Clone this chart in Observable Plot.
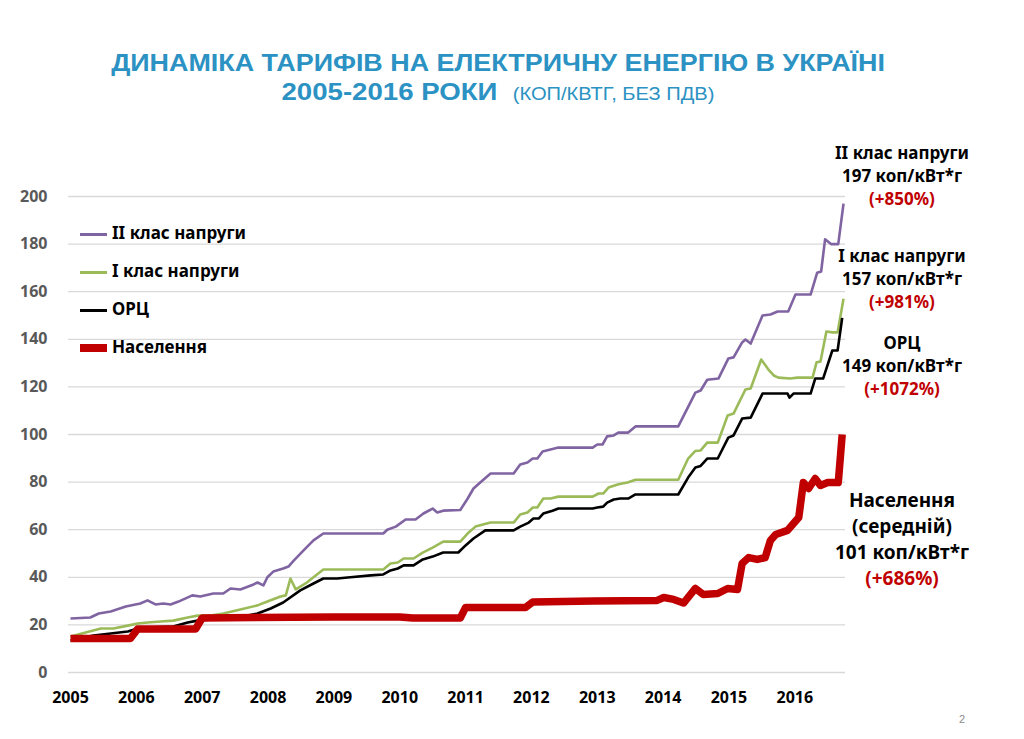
<!DOCTYPE html>
<html>
<head>
<meta charset="utf-8">
<script src="https://cdn.jsdelivr.net/npm/d3@7"></script>
<script src="https://cdn.jsdelivr.net/npm/@observablehq/plot@0.6"></script>
<style>
  html, body { margin: 0; padding: 0; background: #fff; }
  #page { position: relative; width: 1024px; height: 739px; overflow: hidden; background: #fff; }
  .title { position: absolute; left: 0; width: 996px; text-align: center; color: #2b92c3;
           font-family: "Liberation Sans", Arial, sans-serif; font-weight: bold; white-space: nowrap;
           transform-origin: 498px 50%; }
  #chart { position: absolute; left: 0; top: 120px; }
  .leg { position: absolute; left: 80px; font-family: "Noto Sans", sans-serif; font-weight: bold;
         font-size: 17px; color: #000; white-space: nowrap; line-height: 17px; }
  .leg .sw { display: inline-block; width: 27px; vertical-align: middle; margin-right: 5px; }
  .ann { position: absolute; left: 802px; width: 200px; text-align: center; font-family: "Noto Sans", sans-serif;
         font-weight: bold; white-space: nowrap; }
  .ann div { line-height: 1; }
  .red { color: #C00000; }
  #pg { position: absolute; left: 959px; top: 713px; font-family: "Liberation Sans", Arial, sans-serif; font-size: 11px; color: #8c8c8c; }
</style>
</head>
<body>
<div id="page">
  <div class="title" style="top:49px;font-size:24px;transform:scaleX(1.12);">ДИНАМІКА ТАРИФІВ НА ЕЛЕКТРИЧНУ ЕНЕРГІЮ В УКРАЇНІ</div>
  <div class="title" style="top:78px;font-size:24px;transform:scaleX(1.15);">2005-2016 РОКИ&nbsp;&nbsp;<span style="font-weight:normal;font-size:17.5px;">(КОП/КВТГ, БЕЗ ПДВ)</span></div>
  <div id="chart"></div>
  <div id="legend"></div>
  <div id="annotations"></div>
  <div id="pg">2</div>
</div>
<script>
// ---- data ----
const years = [2005, 2006, 2007, 2008, 2009, 2010, 2011, 2012, 2013, 2014, 2015, 2016];
const yTicks = [0, 20, 40, 60, 80, 100, 120, 140, 160, 180, 200];
const seriesNames = ["II клас напруги", "I клас напруги", "ОРЦ", "Населення"];
const seriesColors = ["#8064A2", "#9BBB59", "#000000", "#C00000"];

// [decimal year, коп/кВт*г]
const class2 = [
  [2005.00,22.7],[2005.30,23.1],[2005.43,24.8],[2005.61,25.6],[2005.84,27.7],[2006.06,29.0],[2006.17,30.3],
  [2006.29,28.6],[2006.41,29.0],[2006.52,28.6],[2006.64,29.8],[2006.85,32.4],[2006.97,31.9],[2007.17,33.2],
  [2007.32,33.2],[2007.43,35.3],[2007.58,34.9],[2007.78,37.0],[2007.84,37.8],[2007.93,36.6],[2007.99,40.0],
  [2008.08,42.4],[2008.23,43.7],[2008.31,44.5],[2008.39,47.0],[2008.54,51.3],[2008.69,55.5],[2008.84,58.4],
  [2009.75,58.4],[2009.81,60.0],[2009.94,61.3],[2010.09,64.3],[2010.24,64.3],[2010.36,66.8],[2010.50,68.9],
  [2010.57,67.2],[2010.66,68.0],[2010.92,68.3],[2011.03,73.0],[2011.12,77.3],[2011.27,81.0],[2011.38,83.6],
  [2011.73,83.6],[2011.83,87.4],[2011.94,88.2],[2012.02,89.9],[2012.09,89.9],[2012.17,92.9],[2012.29,93.7],
  [2012.41,94.5],[2012.93,94.5],[2013.00,95.8],[2013.08,95.8],[2013.15,99.2],[2013.25,99.6],[2013.32,100.8],
  [2013.47,100.8],[2013.58,103.4],[2014.23,103.4],[2014.49,117.6],[2014.57,118.5],[2014.67,123.0],[2014.84,123.5],
  [2014.99,131.9],[2015.07,132.4],[2015.20,138.7],[2015.25,139.9],[2015.33,138.2],[2015.51,150.0],[2015.63,150.4],
  [2015.74,151.7],[2015.90,151.7],[2016.01,158.8],[2016.24,158.8],[2016.34,168.0],[2016.40,168.5],[2016.46,182.0],
  [2016.55,180.0],[2016.66,180.0],[2016.74,197.0]
];
const class1 = [
  [2005.00,15.1],[2005.23,16.8],[2005.46,18.5],[2005.65,18.5],[2005.87,19.7],[2006.02,20.6],[2006.17,21.0],
  [2006.37,21.4],[2006.56,21.8],[2006.78,23.1],[2006.93,23.9],[2007.13,23.9],[2007.32,24.8],[2007.58,26.5],
  [2007.84,28.2],[2007.99,29.8],[2008.19,31.9],[2008.27,32.4],[2008.34,39.5],[2008.42,34.9],[2008.57,37.4],
  [2008.84,43.3],[2009.75,43.3],[2009.86,45.8],[2009.97,46.2],[2010.06,47.9],[2010.21,47.9],[2010.35,50.4],
  [2010.50,52.5],[2010.66,55.0],[2010.92,55.0],[2011.03,58.4],[2011.15,61.3],[2011.38,63.0],[2011.73,63.0],
  [2011.83,66.4],[2011.94,67.2],[2012.02,69.3],[2012.09,69.3],[2012.18,73.1],[2012.29,73.1],[2012.41,73.9],
  [2012.93,73.9],[2013.02,75.2],[2013.09,75.2],[2013.17,77.7],[2013.31,79.0],[2013.38,79.4],[2013.46,79.8],
  [2013.58,81.0],[2014.23,81.0],[2014.38,89.9],[2014.49,93.1],[2014.57,93.3],[2014.67,96.6],[2014.83,96.6],
  [2014.98,108.0],[2015.07,108.8],[2015.25,118.9],[2015.33,119.3],[2015.49,131.5],[2015.60,127.3],[2015.68,124.8],
  [2015.75,123.9],[2015.93,123.5],[2016.04,123.9],[2016.27,123.9],[2016.33,130.3],[2016.39,130.7],[2016.48,143.3],
  [2016.57,142.9],[2016.65,142.9],[2016.74,157.0]
];
const orc = [
  [2005.00,13.4],[2005.35,15.5],[2005.61,16.4],[2005.87,17.2],[2006.02,18.5],[2006.17,18.9],[2006.56,19.3],
  [2006.78,21.0],[2006.93,21.8],[2007.69,23.9],[2007.84,24.8],[2008.04,26.9],[2008.23,29.4],[2008.49,34.5],
  [2008.69,37.4],[2008.84,39.5],[2009.05,39.5],[2009.25,40.0],[2009.56,40.8],[2009.75,41.2],[2009.86,42.9],
  [2009.97,43.7],[2010.06,45.0],[2010.21,45.0],[2010.35,47.5],[2010.50,48.7],[2010.66,50.4],[2010.89,50.4],
  [2011.00,53.4],[2011.12,56.3],[2011.30,59.7],[2011.73,59.7],[2011.83,61.3],[2011.96,63.0],[2012.03,64.7],
  [2012.11,64.7],[2012.18,66.8],[2012.32,68.0],[2012.41,68.9],[2012.93,68.9],[2013.00,69.3],[2013.09,69.7],
  [2013.15,71.4],[2013.25,72.7],[2013.35,73.1],[2013.47,73.1],[2013.58,74.8],[2014.23,74.8],[2014.38,81.9],
  [2014.49,86.1],[2014.57,86.8],[2014.67,89.9],[2014.83,89.9],[2014.99,98.7],[2015.07,99.6],[2015.20,106.7],
  [2015.33,107.1],[2015.51,117.2],[2015.89,117.2],[2015.92,115.5],[2015.98,117.2],[2016.24,117.2],[2016.31,123.5],
  [2016.43,123.5],[2016.57,135.3],[2016.65,135.3],[2016.72,149.0]
];
const population = [
  [2005.00,14.3],[2005.91,14.3],[2006.02,18.3],[2006.90,18.3],[2007.00,22.9],[2009.00,23.3],[2010.00,23.3],
  [2010.20,22.9],[2010.92,22.9],[2011.00,27.3],[2011.91,27.3],[2012.02,29.6],[2012.94,30.0],[2013.91,30.3],
  [2014.01,31.5],[2014.16,30.7],[2014.31,29.2],[2014.49,35.3],[2014.61,32.8],[2014.83,33.2],[2014.98,35.3],
  [2015.13,34.9],[2015.20,45.8],[2015.30,48.3],[2015.43,47.5],[2015.55,48.3],[2015.63,55.5],[2015.71,58.0],
  [2015.89,59.7],[2015.98,62.6],[2016.06,65.1],[2016.13,79.8],[2016.21,77.3],[2016.31,81.5],[2016.39,78.6],
  [2016.50,79.8],[2016.66,79.8],[2016.72,100.0]
];

const annTitles = [["II клас напруги"], ["I клас напруги"], ["ОРЦ"], ["Населення", "(середній)"]];
const annValues = ["197 коп/кВт*г", "157 коп/кВт*г", "149 коп/кВт*г", "101 коп/кВт*г"];
const annGrowth = ["(+850%)", "(+981%)", "(+1072%)", "(+686%)"];

// ---- chart ----
const series = [class2, class1, orc, population];
const strokeWidths = [2.6, 2.6, 2.6, 7.5];

const chart = Plot.plot({
  width: 1024,
  height: 619,
  marginTop: 76,
  marginBottom: 67,
  marginLeft: 70,
  marginRight: 179,
  style: { fontFamily: "Noto Sans, sans-serif", background: "transparent" },
  x: { domain: [2005, 2016.77] },
  y: { domain: [0, 200] },
  marks: [
    Plot.ruleY(yTicks, { stroke: "#d9d9d9", strokeWidth: 1.3, insetLeft: -2 }),
    ...series.map((s, i) => Plot.line(s, {
      x: d => d[0], y: d => d[1],
      stroke: seriesColors[i], strokeWidth: strokeWidths[i],
      strokeLinejoin: "round", strokeLinecap: "butt"
    })),
    Plot.axisX(years, { tickSize: 0, tickPadding: 19, tickFormat: d => String(d), fontSize: 16, fontWeight: "bold", fill: "#000", label: null }),
    Plot.axisY(yTicks, { tickSize: 0, tickPadding: 23, fontSize: 16, fontWeight: "bold", fill: "#595959", label: null })
  ]
});
document.getElementById("chart").appendChild(chart);

// ---- legend (overlaid at top-left of plot) ----
const legend = document.getElementById("legend");
const legTops = [224, 262, 300, 338];
seriesNames.forEach((name, i) => {
  const d = document.createElement("div");
  d.className = "leg";
  d.style.top = legTops[i] + "px";
  const sw = document.createElement("span");
  sw.className = "sw";
  sw.style.height = (i === 3 ? 8 : 3) + "px";
  sw.style.background = seriesColors[i];
  d.appendChild(sw);
  d.appendChild(document.createTextNode(name));
  legend.appendChild(d);
});

// ---- right-hand annotations ----
const annBox = document.getElementById("annotations");
const annTops = [144, 247, 334, 491];
const annSizes = [17, 17, 17, 19];
const annGaps = [23, 23, 23, 26];
annTitles.forEach((t, i) => {
  const lines = [...t.map(s => [s, false]), [annValues[i], false], [annGrowth[i], true]];
  const box = document.createElement("div");
  box.className = "ann";
  box.style.top = annTops[i] + "px";
  box.style.fontSize = annSizes[i] + "px";
  lines.forEach(([txt, red]) => {
    const l = document.createElement("div");
    l.textContent = txt;
    l.style.height = annGaps[i] + "px";
    if (red) l.className = "red";
    box.appendChild(l);
  });
  annBox.appendChild(box);
});
</script>
</body>
</html>
